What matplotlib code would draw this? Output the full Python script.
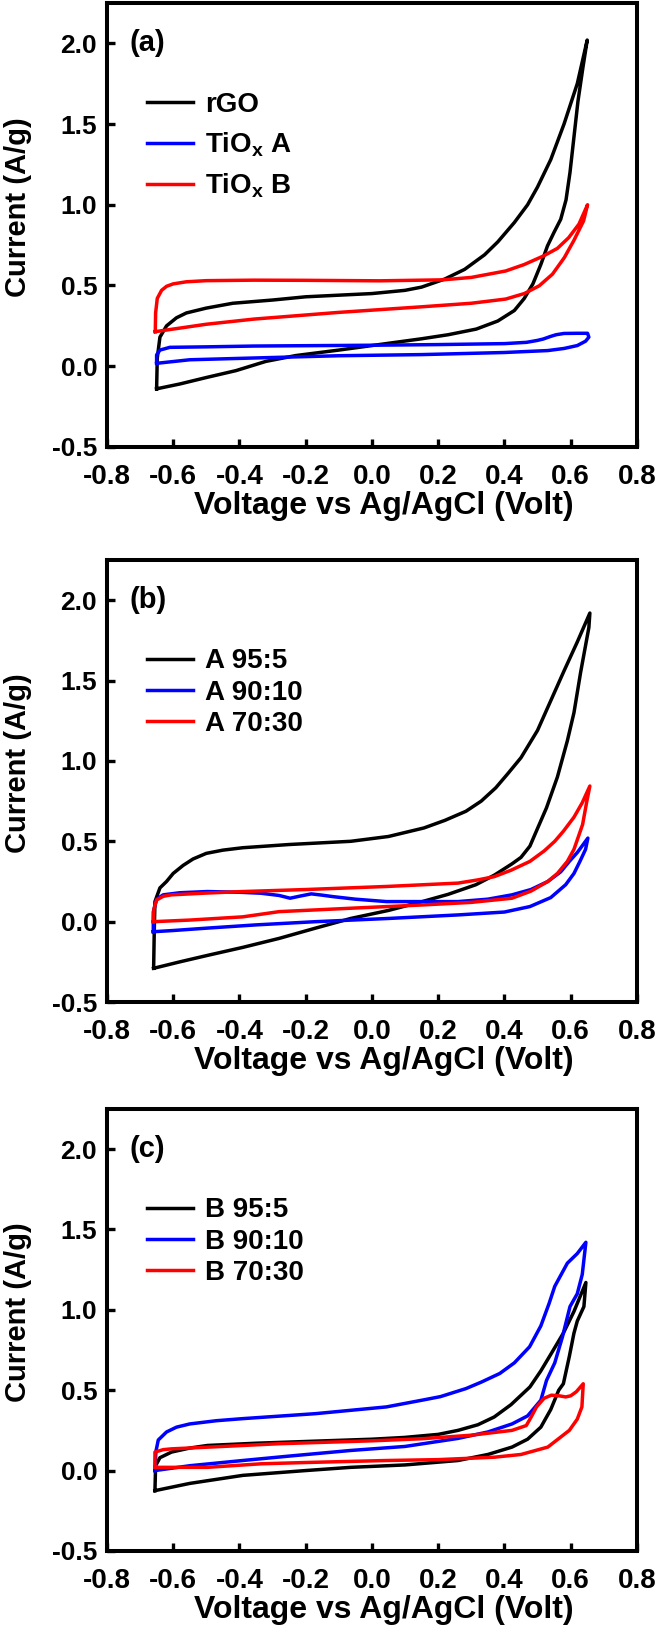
import matplotlib
matplotlib.use('Agg')
import matplotlib.pyplot as plt

plt.rcParams['font.family'] = ['Liberation Sans', 'DejaVu Sans']
plt.rcParams['font.weight'] = 'bold'
plt.rcParams['mathtext.fontset'] = 'custom'
plt.rcParams['mathtext.rm'] = 'Liberation Sans:bold'
plt.rcParams['mathtext.it'] = 'Liberation Sans:bold'
plt.rcParams['mathtext.bf'] = 'Liberation Sans:bold'

# ---- axis ticks ----
xticks = [-0.8, -0.6, -0.4, -0.2, 0.0, 0.2, 0.4, 0.6, 0.8]
xtick_labels = ['-0.8', '-0.6', '-0.4', '-0.2', '0.0', '0.2', '0.4', '0.6', '0.8']
yticks = [-0.5, 0.0, 0.5, 1.0, 1.5, 2.0]
ytick_labels = ['-0.5', '0.0', '0.5', '1.0', '1.5', '2.0']

# ---- panel (a) ----
a_labels = ['rGO', r'TiO$_{x}$ A', r'TiO$_{x}$ B']
rgo_x = [-0.65, -0.648, -0.64, -0.62, -0.59, -0.56, -0.50, -0.42, -0.30, -0.20, -0.10, 0.00, 0.10, 0.15,
         0.22, 0.28, 0.34, 0.38, 0.43, 0.47, 0.50, 0.54, 0.58, 0.62, 0.65,
         0.637, 0.622, 0.61, 0.598, 0.586, 0.57, 0.55, 0.53, 0.51, 0.486, 0.46, 0.43, 0.38, 0.315, 0.23, 0.15,
         0.0, -0.1, -0.23, -0.32, -0.41, -0.50, -0.58, -0.65]
rgo_y = [-0.14, 0.05, 0.18, 0.25, 0.30, 0.33, 0.36, 0.39, 0.41, 0.43, 0.44, 0.45, 0.47, 0.49,
         0.54, 0.60, 0.69, 0.77, 0.89, 1.00, 1.11, 1.28, 1.50, 1.75, 2.02,
         1.85, 1.64, 1.42, 1.20, 1.03, 0.91, 0.83, 0.745, 0.63, 0.51, 0.42, 0.345, 0.28, 0.23, 0.195, 0.17,
         0.128, 0.10, 0.066, 0.03, -0.027, -0.07, -0.11, -0.14]
tioa_x = [-0.65, -0.65, -0.64, -0.61, -0.5, -0.356, 0.0, 0.2, 0.40, 0.467, 0.50, 0.518, 0.54, 0.556, 0.58, 0.62, 0.651,
          0.655, 0.645, 0.62, 0.58, 0.531, 0.40, 0.15, -0.1, -0.356, -0.55, -0.65]
tioa_y = [0.018, 0.07, 0.10, 0.117, 0.12, 0.125, 0.13, 0.134, 0.14, 0.148, 0.16, 0.169, 0.185, 0.195, 0.203, 0.204, 0.204,
          0.18, 0.155, 0.128, 0.11, 0.097, 0.085, 0.072, 0.065, 0.051, 0.04, 0.018]
tiob_x = [-0.654, -0.653, -0.648, -0.635, -0.62, -0.60, -0.56, -0.50, -0.356, -0.2, 0.024, 0.214, 0.30, 0.404, 0.46,
          0.518, 0.56, 0.594, 0.625, 0.651,
          0.645, 0.639, 0.61, 0.581, 0.545, 0.505, 0.46, 0.404, 0.3, 0.15, -0.103, -0.356, -0.5, -0.654]
tiob_y = [0.214, 0.33, 0.42, 0.47, 0.495, 0.51, 0.523, 0.53, 0.533, 0.532, 0.529, 0.535, 0.55, 0.59, 0.63,
          0.683, 0.73, 0.796, 0.88, 1.0,
          0.95, 0.9, 0.78, 0.673, 0.57, 0.498, 0.45, 0.416, 0.39, 0.368, 0.333, 0.292, 0.26, 0.214]

# ---- panel (b) ----
b_labels = ['A 95:5', 'A 90:10', 'A 70:30']
a95_x = [-0.659, -0.657, -0.655, -0.64, -0.62, -0.60, -0.57, -0.54, -0.50, -0.45, -0.39, -0.25, -0.064, 0.05, 0.157,
         0.22, 0.284, 0.33, 0.374, 0.41, 0.45, 0.50, 0.54, 0.58, 0.62, 0.658,
         0.655, 0.63, 0.61, 0.59, 0.56, 0.527, 0.50, 0.477, 0.45, 0.423, 0.37, 0.314, 0.23, 0.152, 0.05,
         -0.064, -0.17, -0.28, -0.39, -0.497, -0.58, -0.659]
a95_y = [-0.29, -0.05, 0.125, 0.21, 0.25, 0.30, 0.35, 0.39, 0.425, 0.445, 0.46, 0.48, 0.50, 0.53, 0.583,
         0.63, 0.687, 0.75, 0.833, 0.92, 1.02, 1.19, 1.375, 1.56, 1.74, 1.92,
         1.83, 1.55, 1.30, 1.125, 0.90, 0.708, 0.58, 0.47, 0.40, 0.36, 0.29, 0.23, 0.17, 0.125, 0.07,
         0.02, -0.04, -0.104, -0.16, -0.21, -0.25, -0.29]
a90_x = [-0.66, -0.66, -0.65, -0.63, -0.58, -0.497, -0.40, -0.335, -0.28, -0.247, -0.215, -0.183, -0.15, -0.118,
         -0.05, 0.044, 0.26, 0.35, 0.423, 0.48, 0.531, 0.57, 0.596, 0.62, 0.652,
         0.645, 0.628, 0.61, 0.585, 0.54, 0.477, 0.40, 0.26, 0.05, -0.17, -0.35, -0.497, -0.60, -0.66]
a90_y = [-0.0625, 0.06, 0.14, 0.167, 0.18, 0.1875, 0.183, 0.177, 0.163, 0.146, 0.16, 0.173, 0.165, 0.156,
         0.14, 0.125, 0.125, 0.14, 0.167, 0.20, 0.25, 0.31, 0.375, 0.43, 0.52,
         0.45, 0.375, 0.30, 0.23, 0.15, 0.094, 0.06, 0.042, 0.02, 0.0, -0.02, -0.04, -0.055, -0.0625]
a70_x = [-0.66, -0.658, -0.65, -0.63, -0.605, -0.5, -0.39, -0.2, 0.044, 0.26, 0.32, 0.369, 0.42, 0.477, 0.52,
         0.552, 0.578, 0.61, 0.635, 0.658,
         0.648, 0.636, 0.61, 0.59, 0.56, 0.531, 0.48, 0.423, 0.3, 0.152, -0.05, -0.28, -0.39, -0.55, -0.66]
a70_y = [0.0, 0.08, 0.135, 0.158, 0.167, 0.178, 0.1875, 0.20, 0.219, 0.24, 0.26, 0.28, 0.32, 0.375, 0.44,
         0.50, 0.5625, 0.65, 0.74, 0.844,
         0.74, 0.604, 0.45, 0.375, 0.30, 0.25, 0.19, 0.146, 0.12, 0.104, 0.085, 0.0625, 0.03, 0.01, 0.0]

# ---- panel (c) ----
c_labels = ['B 95:5', 'B 90:10', 'B 70:30']
b95_x = [-0.655, -0.653, -0.64, -0.62, -0.605, -0.55, -0.497, -0.35, -0.17, 0.0, 0.098, 0.20, 0.26, 0.32, 0.369,
         0.42, 0.477, 0.51, 0.542, 0.578, 0.61, 0.646,
         0.64, 0.62, 0.61, 0.596, 0.578, 0.564, 0.54, 0.51, 0.47, 0.423, 0.35, 0.26, 0.1, -0.064, -0.2,
         -0.39, -0.55, -0.655]
b95_y = [-0.125, 0.03, 0.08, 0.10, 0.115, 0.14, 0.156, 0.17, 0.183, 0.195, 0.206, 0.225, 0.25, 0.285, 0.333,
         0.41, 0.52, 0.62, 0.73, 0.855, 0.99, 1.17,
         1.02, 0.93, 0.855, 0.71, 0.54, 0.50, 0.38, 0.27, 0.195, 0.146, 0.10, 0.0625, 0.035, 0.02, 0.0,
         -0.03, -0.08, -0.125]
b90_x = [-0.655, -0.652, -0.645, -0.62, -0.59, -0.55, -0.47, -0.39, -0.17, 0.044, 0.157, 0.207, 0.284, 0.33,
         0.386, 0.43, 0.476, 0.51, 0.535, 0.552, 0.59, 0.62, 0.646,
         0.635, 0.62, 0.598, 0.575, 0.552, 0.527, 0.51, 0.47, 0.423, 0.35, 0.26, 0.1, -0.064, -0.25, -0.39,
         -0.55, -0.655]
b90_y = [0.0, 0.12, 0.19, 0.24, 0.27, 0.29, 0.31, 0.323, 0.354, 0.396, 0.44, 0.46, 0.51, 0.55,
         0.604, 0.67, 0.77, 0.90, 1.04, 1.146, 1.29, 1.35, 1.42,
         1.22, 1.1, 1.02, 0.83, 0.67, 0.56, 0.4375, 0.34, 0.29, 0.24, 0.2, 0.15, 0.125, 0.09, 0.0625,
         0.03, 0.0]
b70_x = [-0.655, -0.655, -0.63, -0.605, -0.45, -0.28, 0.0, 0.152, 0.30, 0.423, 0.466, 0.48, 0.497, 0.52, 0.542,
         0.565, 0.585, 0.60, 0.617, 0.638,
         0.636, 0.634, 0.62, 0.596, 0.531, 0.45, 0.369, 0.2, 0.044, -0.2, -0.335, -0.497, -0.655]
b70_y = [0.02, 0.115, 0.13, 0.135, 0.15, 0.167, 0.185, 0.198, 0.22, 0.25, 0.28, 0.33, 0.396, 0.45, 0.469,
         0.465, 0.458, 0.465, 0.49, 0.54,
         0.47, 0.396, 0.32, 0.25, 0.146, 0.1, 0.083, 0.068, 0.0625, 0.05, 0.042, 0.02, 0.02]

colors = ['black', 'blue', 'red']


def draw_panel(ax, curves, labels, tag, spacing):
    for (xs, ys), lab, col in zip(curves, labels, colors):
        ax.plot(xs, ys, color=col, lw=2.5, label=lab, solid_joinstyle='round')
    ax.set_xlim(-0.8, 0.8)
    ax.set_ylim(-0.5, 2.25)
    ax.set_xticks(xticks)
    ax.set_xticklabels(xtick_labels)
    ax.set_yticks(yticks)
    ax.set_yticklabels(ytick_labels)
    ax.tick_params(direction='in', length=6, width=2.4)
    ax.tick_params(axis='x', labelsize=20, pad=12)
    ax.tick_params(axis='y', labelsize=19, pad=7)
    for sp in ax.spines.values():
        sp.set_linewidth(2.9)
    ax.set_xlabel('Voltage vs Ag/AgCl (Volt)', fontsize=23, fontweight='bold', labelpad=1)
    ax.xaxis.label.set_x(0.523)
    ax.set_ylabel('Current (A/g)', fontsize=21, fontweight='bold')
    ax.yaxis.set_label_coords(-0.142, 0.54)
    ax.text(0.043, 0.91, tag, transform=ax.transAxes, fontsize=21, fontweight='bold', va='center')
    ax.legend(loc='upper left', bbox_to_anchor=(0.0755, 0.80), frameon=False, fontsize=20,
              handlelength=1.65, handletextpad=0.43, labelspacing=spacing, borderpad=0, borderaxespad=0)


fig = plt.figure(figsize=(6.6, 16.36), dpi=100)
ax_a = fig.add_axes([0.162, 0.7268, 0.803, 0.2714])
ax_b = fig.add_axes([0.162, 0.3875, 0.803, 0.2702])
ax_c = fig.add_axes([0.162, 0.0520, 0.803, 0.2702])

draw_panel(ax_a, [(rgo_x, rgo_y), (tioa_x, tioa_y), (tiob_x, tiob_y)], a_labels, '(a)', 0.45)
draw_panel(ax_b, [(a95_x, a95_y), (a90_x, a90_y), (a70_x, a70_y)], b_labels, '(b)', 0.19)
draw_panel(ax_c, [(b95_x, b95_y), (b90_x, b90_y), (b70_x, b70_y)], c_labels, '(c)', 0.19)

fig.savefig('out.png', dpi=100)
